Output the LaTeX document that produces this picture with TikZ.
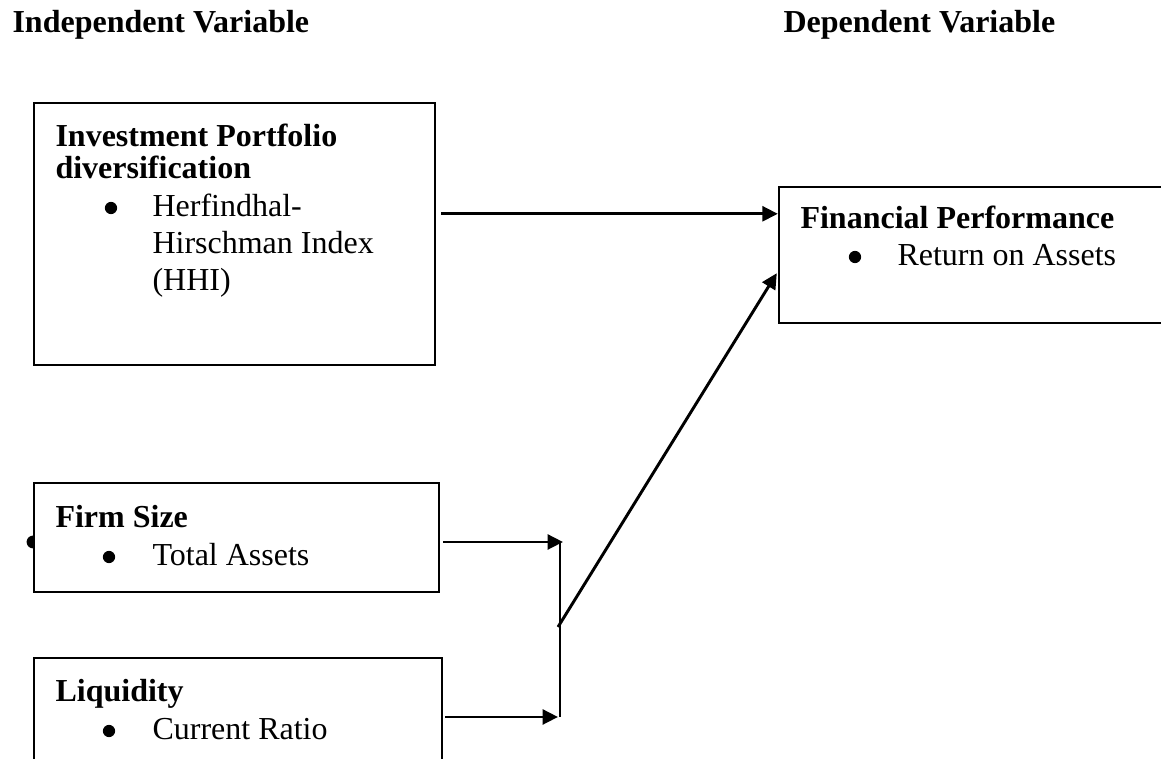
\documentclass[12pt,tikz,border=0pt]{standalone}
\usepackage{fontspec}
\setmainfont{Liberation Serif}
\usepackage{tikz}
\usetikzlibrary{arrows.meta,positioning,fit,calc}
\tikzstyle{arrow} = [line width=1.1pt,-{Triangle[length=5.8pt,width=5.6pt]}]
\tikzstyle{varbox} = [rectangle, draw, line width=0.9pt, inner sep=0pt, fill=white]
\tikzstyle{ttl} = [anchor=base west, inner sep=0pt, font=\bfseries]
\tikzstyle{itm} = [anchor=base west, inner sep=0pt]
\tikzstyle{bul} = [circle, fill, inner sep=0pt, minimum size=4.6pt]

\begin{document}
\begin{tikzpicture}[x=0.375pt, y=0.375pt]
\clip (0,0) rectangle (1161,759);

% Headings
\node (indep) [ttl] at (12,726) {Independent Variable};
\node (dep) [ttl] at (783,726) {Dependent Variable};

% stray bullet behind Firm Size
\node (stray) [bul, minimum size=4.8pt] at (33,217) {};

% Boxes
\node (ipd) [varbox, fit={(34,656) (435,394)}] {};
\node (perf) [varbox, fit={(779,572) (1180,436)}] {};
\node (firm) [varbox, fit={(34,276) (439,167)}] {};
\node (liq) [varbox, fit={(34,101) (442,-20)}] {};

% Box texts
\node (ipdt1) [ttl] at (55,612) {Investment Portfolio};
\node (ipdt2) [ttl] at (55,580) {diversification};
\node (ipdb) [bul] at (111,551) {};
\node (ipdi1) [itm] at (152,542) {Herfindhal-};
\node (ipdi2) [itm] at (152,505) {Hirschman Index};
\node (ipdi3) [itm] at (152,468) {(HHI)};

\node (perft) [ttl] at (800,530) {Financial Performance};
\node (perfb) [bul] at (855,502) {};
\node (perfi) [itm] at (897,493) {Return on Assets};

\node (firmt) [ttl] at (55,231) {Firm Size};
\node (firmb) [bul] at (109,202) {};
\node (firmi) [itm] at (152,193) {Total Assets};

\node (liqt) [ttl] at (55,57) {Liquidity};
\node (liqb) [bul] at (109,28) {};
\node (liqi) [itm] at (152,19) {Current Ratio};

% Junction
\coordinate (jtop) at (560,217);
\coordinate (jbot) at (560,42);
\coordinate (join) at (558,132);

% Arrows
\draw[arrow] ($(ipd.north east)+(5,-112)$) coordinate (s1) -- (s1 -| perf.west);
\draw[arrow] ($(firm.east)+(3,-4.5)$) -- ($(jtop)+(3,0)$);
\draw[arrow] ($(liq.east)+(2,1.5)$) -- ($(jbot)+(-2,0)$);
\draw[line width=0.75pt] (jtop) -- (jbot);
\draw[arrow] (join) -- ($(perf.south west)+(-1,51)$);
\end{tikzpicture}
\end{document}
